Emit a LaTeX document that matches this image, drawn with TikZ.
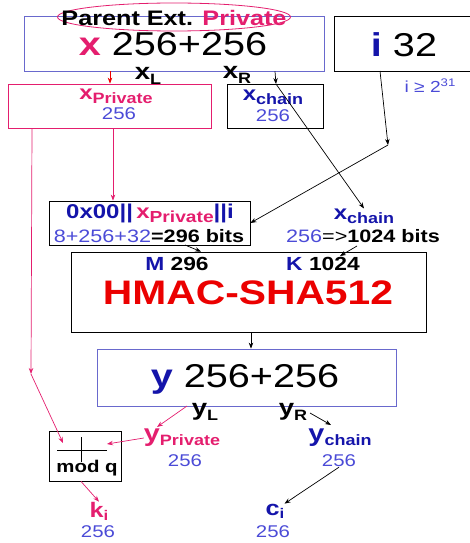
\documentclass[tikz,border=0pt]{standalone}
\usepackage{fontspec}
\setmainfont[FakeStretch=1.2]{Liberation Sans}
\usetikzlibrary{shapes.geometric,arrows.meta}
\definecolor{pinkc}{RGB}{228,30,110}
\definecolor{navy}{RGB}{20,20,170}
\definecolor{lblue}{RGB}{75,75,215}
\definecolor{boxblue}{RGB}{105,105,205}
\definecolor{redc}{RGB}{235,0,0}
\newcommand\fs[1]{\fontsize{#1}{#1}\selectfont}
\begin{document}
\begin{tikzpicture}[x=1pt,y=-1pt,
  bx/.style={draw,line width=0.8pt,inner sep=0pt},
  arr/.style={-{Stealth[length=6pt,width=4.5pt]},line width=0.7pt},
  lab/.style={inner sep=0pt}]
\path[use as bounding box] (0,0) rectangle (469,543);
% boxes
\node[bx,draw=boxblue,minimum width=300pt,minimum height=55pt] (top) at (174,43.5) {};
\node[bx,draw=pinkc,ellipse,minimum width=233pt,minimum height=28pt] (ell) at (174,17) {};
\node[bx,minimum width=136pt,minimum height=55pt] (ibox) at (402,43.5) {};
\node[bx,draw=pinkc,minimum width=203pt,minimum height=44pt] (xpbox) at (109.5,106) {};
\node[bx,minimum width=96pt,minimum height=44pt] (xcbox) at (275,106) {};
\node[bx,minimum width=201pt,minimum height=44pt] (cat) at (149.5,223) {};
\node[bx,minimum width=355pt,minimum height=80pt] (hmac) at (248.5,292) {};
\node[bx,draw=boxblue,minimum width=299pt,minimum height=57pt] (ybox) at (246.5,377.5) {};
\node[bx,minimum width=72pt,minimum height=50pt] (modb) at (85,456) {};
% texts
\node[lab,font=\fs{21}\bfseries] (ptitle) at (174,18) {Parent Ext. \textcolor{pinkc}{Private}};
\node[lab,font=\fs{33}] (xt) at (173,44) {\textcolor{pinkc}{\bfseries x} 256+256};
\node[lab] (xl) at (148,76) {\fs{23}\bfseries x\raisebox{-5pt}{\fs{15}L}};
\node[lab] (xr) at (237,74.5) {\fs{23}\bfseries x\raisebox{-5pt}{\fs{15}R}};
\node[lab,font=\fs{33}] (it) at (404,45) {\textcolor{navy}{\bfseries i} 32};
\node[lab,font=\fs{16},text=lblue] (ige) at (430,86) {i ≥ 2\raisebox{6pt}{\fs{11}31}};
\node[lab,text=pinkc] (xpl) at (116,96) {\fs{20}\bfseries x\raisebox{-4pt}{\fs{15}Private}};
\node[lab,font=\fs{17},text=lblue] (xpn) at (119,114) {256};
\node[lab,text=navy] (xcl) at (273,97.5) {\fs{20}\bfseries x\raisebox{-4pt}{\fs{15}chain}};
\node[lab,font=\fs{17},text=lblue] (xcn) at (273,115.5) {256};
\node[lab,font=\fs{20}\bfseries] (cat1) at (150,213) {\textcolor{navy}{0x00||}\,\textcolor{pinkc}{x\raisebox{-4pt}{\fs{16}Private}}\textcolor{navy}{||i}};
\node[lab,font=\fs{18}] (cat2) at (149,236) {\textcolor{lblue}{8+256+32}\textbf{=296 bits}};
\node[lab,text=navy] (xc2) at (364,216) {\fs{20}\bfseries x\raisebox{-4pt}{\fs{15}chain}};
\node[lab,font=\fs{18}] (xc2n) at (363,236) {\textcolor{lblue}{256}=>\textbf{1024 bits}};
\node[lab,font=\fs{19}\bfseries] (mt) at (177,264) {\textcolor{navy}{M} 296};
\node[lab,font=\fs{19}\bfseries] (kt) at (323,264) {\textcolor{navy}{K} 1024};
\node[lab,font=\fs{34}\bfseries,text=redc] (ht) at (248,293) {HMAC-SHA512};
\node[lab,font=\fs{33}] (yt) at (245,379) {\textcolor{navy}{\bfseries y} 256+256};
\node[lab] (yl) at (205,412) {\fs{23}\bfseries y\raisebox{-5pt}{\fs{15}L}};
\node[lab] (yr) at (293,412) {\fs{23}\bfseries y\raisebox{-5pt}{\fs{15}R}};
\node[lab,text=pinkc] (ypl) at (182,438) {\fs{24}\bfseries y\raisebox{-4pt}{\fs{15}Private}};
\node[lab,font=\fs{17},text=lblue] (ypn) at (185,461) {256};
\node[lab,text=navy] (ycl) at (340,438) {\fs{24}\bfseries y\raisebox{-4pt}{\fs{15}chain}};
\node[lab,font=\fs{17},text=lblue] (ycn) at (339,461) {256};
\node[lab,font=\fs{17}\bfseries] (modt) at (87,468) {mod q};
\node[lab,text=pinkc] (ki) at (99,511) {\fs{21}\bfseries k\raisebox{-3pt}{\fs{14}i}};
\node[lab,font=\fs{17},text=lblue] (kin) at (98,532) {256};
\node[lab,text=navy] (ci) at (275,511) {\fs{21}\bfseries c\raisebox{-3pt}{\fs{14}i}};
\node[lab,font=\fs{17},text=lblue] (cin) at (273,532) {256};
% plus sign in mod box
\coordinate (pl) at (57,450); \coordinate (pr) at (107,450);
\coordinate (pt) at (81,437); \coordinate (pb) at (81,462);
\draw[line width=0.8pt] (pl) -- (pr) (pt) -- (pb);
% helper coordinates
\coordinate (c110) at (110,0);
\coordinate (c275) at (275,0);
\coordinate (c113) at (113,0);
\coordinate (c32) at (32,0);
\coordinate (bend) at (388,145);
\coordinate (lbend) at (31,374);
\coordinate (xrtip) at (276,84);
% connectors
\draw[arr,redc] (top.south -| c110) -- (xpbox.north -| c110);
\draw[arr] (top.south -| c275) -- (xrtip);
\draw[arr] (xrtip) -- (xc2.north);
\draw[arr] (380,71) -- (bend);
\draw[arr] (bend) -- (cat.east);
\draw[arr,pinkc] (xpbox.south -| c113) -- (cat.north -| c113);
\draw[arr,pinkc] (xpbox.south -| c32) -- (lbend);
\draw[arr,pinkc] (lbend) -- (63,443);
\draw[arr] (185,245) -- (hmac.north -| 201,0);
\draw[arr] (357,246) -- (340,256);
\draw[arr] (hmac.south -| 251,0) -- (ybox.north -| 251,0);
\draw[arr,pinkc] (187,406) -- (157,427);
\draw[arr] (310,413) -- (331,425);
\draw[arr,pinkc] (ypl.west) -- (107,444);
\draw[arr,pinkc] (modb.south -| 81,0) -- (ki.north);
\draw[arr] (ycn.south) -- (ci.north east);
\end{tikzpicture}
\end{document}
